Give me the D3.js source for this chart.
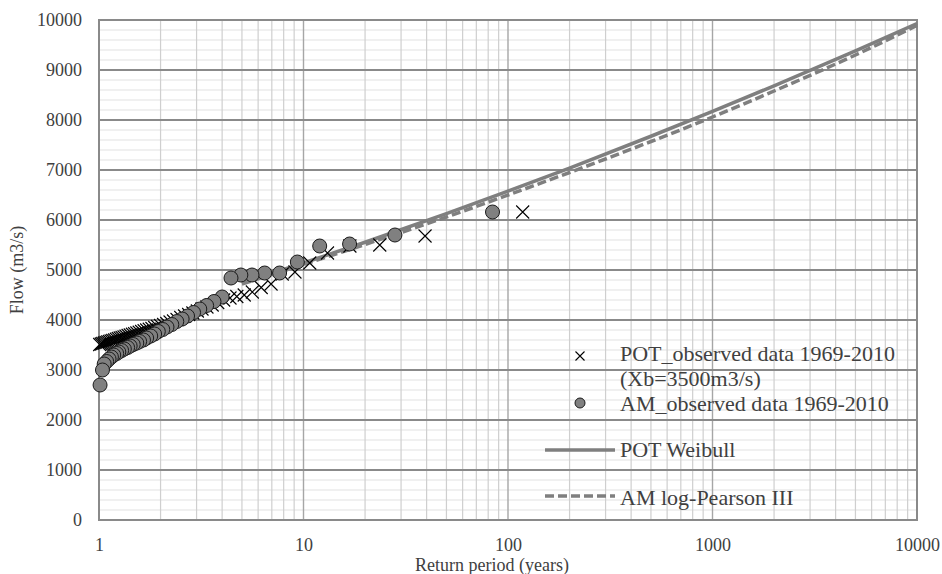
<!DOCTYPE html>
<html><head><meta charset="utf-8">
<script src="https://cdn.jsdelivr.net/npm/d3@7"></script>
<style>body{margin:0;background:#fff}svg{display:block}</style>
</head><body><svg id="c" width="942" height="574"></svg>
<script>
// ---------- data ----------
const potT = [118, 39.3, 23.6, 16.86, 13.1, 10.73, 9.08, 7.87, 6.94, 6.21, 5.62, 5.13, 4.72, 4.37, 4.07,
  3.806, 3.576, 3.371, 3.189, 3.026, 2.878, 2.744, 2.622, 2.511, 2.408, 2.314, 2.226, 2.145, 2.070, 2.0,
  1.934, 1.873, 1.815, 1.761, 1.710, 1.662, 1.616, 1.573, 1.532, 1.494, 1.457, 1.422, 1.388, 1.356, 1.326,
  1.297, 1.269, 1.242, 1.216, 1.192, 1.168, 1.146, 1.124, 1.103, 1.083, 1.063, 1.044, 1.026, 1.008];
const potQ = [6160, 5680, 5500, 5480, 5340, 5140, 4960, 4920, 4720, 4650, 4560, 4500, 4470, 4440, 4400,
  4350, 4300, 4260, 4220, 4180, 4140, 4110, 4080, 4050, 4010, 3980, 3960, 3930, 3910, 3890,
  3870, 3850, 3830, 3815, 3800, 3785, 3770, 3755, 3740, 3725, 3715, 3700, 3690, 3675, 3660,
  3650, 3640, 3630, 3615, 3600, 3590, 3580, 3570, 3560, 3550, 3540, 3530, 3520, 3510];
const amT = [84, 28, 16.8, 12, 9.33, 7.64, 6.46, 5.6, 4.94, 4.42, 4.0, 3.65, 3.36, 3.11, 2.90,
  2.71, 2.55, 2.40, 2.27, 2.15, 2.05, 1.95, 1.87, 1.79, 1.71, 1.65, 1.58, 1.53, 1.47, 1.42,
  1.38, 1.33, 1.29, 1.25, 1.22, 1.18, 1.15, 1.12, 1.09, 1.06, 1.04, 1.012];
const amQ = [6160, 5700, 5520, 5480, 5160, 4940, 4940, 4900, 4900, 4840, 4460, 4370, 4290, 4220, 4150,
  4080, 4020, 3970, 3910, 3860, 3810, 3770, 3720, 3680, 3640, 3600, 3570, 3540, 3510, 3480,
  3450, 3420, 3390, 3360, 3330, 3300, 3260, 3220, 3170, 3120, 3000, 2700];
const weibullT = [5, 10, 20, 50, 100, 200, 500, 1000, 2000, 5000, 10000];
const weibullQ = [4740, 5140, 5555, 6127, 6576, 7039, 7675, 8172, 8684, 9384, 9930];
const lp3T = [5, 10, 20, 50, 100, 200, 500, 1000, 2000, 5000, 10000];
const lp3Q = [4720, 5110, 5510, 6060, 6500, 6950, 7570, 8060, 8580, 9300, 9890];
const xTicks = [1, 10, 100, 1000, 10000];
const yTicks = [0, 1000, 2000, 3000, 4000, 5000, 6000, 7000, 8000, 9000, 10000];
const legendLabels = ["POT_observed data 1969-2010", "(Xb=3500m3/s)", "AM_observed data 1969-2010", "POT Weibull", "AM log-Pearson III"];
const xTitle = "Return period (years)";
const yTitle = "Flow (m3/s)";

// ---------- layout ----------
const L = 99, R = 917, T = 20, B = 520;
const FONT = "'Liberation Serif','Times New Roman',serif";
const svg = d3.select("#c");
const x = d3.scaleLog().domain([1, 10000]).range([L, R]);
const y = d3.scaleLinear().domain([0, 10000]).range([B, T]);

const g = svg.append("g");
const minorY = d3.range(0, 10001, 200).filter(v => v % 1000 !== 0);
g.selectAll(".mh").data(minorY).enter().append("line")
  .attr("x1", L).attr("x2", R).attr("y1", d => y(d)).attr("y2", d => y(d))
  .attr("stroke", "#e2e2e2").attr("stroke-width", 1.2);
const minorX = [];
[1, 10, 100, 1000].forEach(d => { for (let k = 2; k <= 9; k++) minorX.push(d * k); });
g.selectAll(".mv").data(minorX).enter().append("line")
  .attr("x1", d => x(d)).attr("x2", d => x(d)).attr("y1", T).attr("y2", B)
  .attr("stroke", "#cfcfcf").attr("stroke-width", 1.2);
g.selectAll(".Mv").data(xTicks).enter().append("line")
  .attr("x1", d => x(d)).attr("x2", d => x(d)).attr("y1", T).attr("y2", B)
  .attr("stroke", "#a6a6a6").attr("stroke-width", 1.4);
g.selectAll(".Mh").data(yTicks).enter().append("line")
  .attr("x1", L).attr("x2", R).attr("y1", d => y(d)).attr("y2", d => y(d))
  .attr("stroke", "#8a8a8a").attr("stroke-width", 2);
g.append("rect").attr("x", L).attr("y", T).attr("width", R - L).attr("height", B - T)
  .attr("fill", "none").attr("stroke", "#8a8a8a").attr("stroke-width", 2);

// axes
const yAxis = svg.append("g").attr("transform", `translate(${L},0)`)
  .call(d3.axisLeft(y).tickValues(yTicks).tickSize(0).tickPadding(17).tickFormat(d3.format("d")));
const xAxis = svg.append("g").attr("transform", `translate(0,${B})`)
  .call(d3.axisBottom(x).tickValues(xTicks).tickSize(0).tickPadding(18).tickFormat(d3.format("d")));
[yAxis, xAxis].forEach(a => {
  a.select(".domain").remove();
  a.selectAll("text").attr("font-family", FONT).attr("font-size", 18).attr("fill", "#404040");
});
svg.append("text").attr("x", 492).attr("y", 571).attr("text-anchor", "middle")
  .attr("font-family", FONT).attr("font-size", 18).attr("fill", "#404040").text(xTitle);
svg.append("text").attr("transform", `translate(23,${(T + B) / 2}) rotate(-90)`).attr("text-anchor", "middle")
  .attr("font-family", FONT).attr("font-size", 18).attr("fill", "#404040").text(yTitle);

// lines
const line = d3.line().x(d => x(d[0])).y(d => y(d[1])).curve(d3.curveMonotoneX);
svg.append("path").attr("d", line(weibullT.map((t, i) => [t, weibullQ[i]])))
  .attr("fill", "none").attr("stroke", "#7f7f7f").attr("stroke-width", 3.5);
svg.append("path").attr("d", line(lp3T.map((t, i) => [t, lp3Q[i]])))
  .attr("fill", "none").attr("stroke", "#7f7f7f").attr("stroke-width", 3.5).attr("stroke-dasharray", "9,4");

// markers
function cross(sel, cx, cy, s) {
  sel.append("path").attr("d", `M${cx - s},${cy - s}L${cx + s},${cy + s}M${cx - s},${cy + s}L${cx + s},${cy - s}`)
    .attr("stroke", "#000").attr("stroke-width", 1.1).attr("fill", "none");
}
const potG = svg.append("g");
potT.forEach((t, i) => cross(potG, x(t), y(potQ[i]), 6.5));
svg.append("g").selectAll("circle").data(amT.map((t, i) => [t, amQ[i]])).enter().append("circle")
  .attr("cx", d => x(d[0])).attr("cy", d => y(d[1])).attr("r", 7)
  .attr("fill", "#808080").attr("stroke", "#1a1a1a").attr("stroke-width", 1);

// legend
const lg = svg.append("g").attr("font-family", FONT).attr("font-size", 22).attr("fill", "#404040");
cross(lg, 580, 356, 4.5);
lg.append("circle").attr("cx", 580).attr("cy", 403).attr("r", 5).attr("fill", "#808080").attr("stroke", "#1a1a1a");
lg.append("line").attr("x1", 545).attr("x2", 615).attr("y1", 450).attr("y2", 450)
  .attr("stroke", "#7f7f7f").attr("stroke-width", 3.5);
lg.append("line").attr("x1", 545).attr("x2", 615).attr("y1", 496).attr("y2", 496)
  .attr("stroke", "#7f7f7f").attr("stroke-width", 3.5).attr("stroke-dasharray", "9,4");
const ly = [361, 386, 411, 457, 505];
legendLabels.forEach((s, i) => lg.append("text").attr("x", 620).attr("y", ly[i]).text(s));
</script></body></html>
